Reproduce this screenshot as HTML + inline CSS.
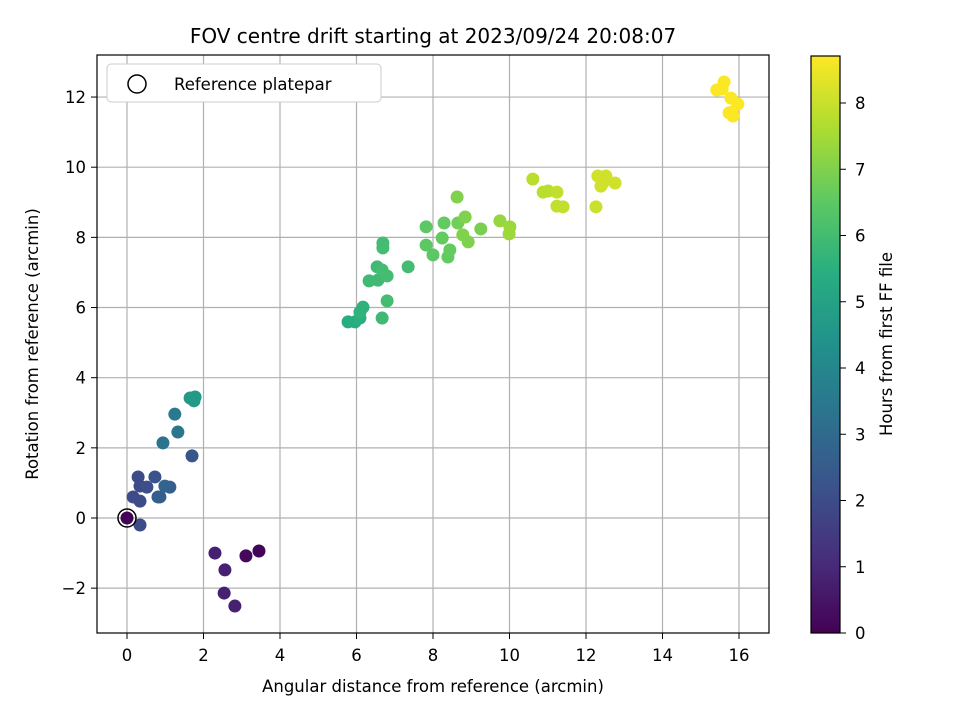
<!DOCTYPE html>
<html><head><meta charset="utf-8">
<style>
body{margin:0;background:#fff;}
svg text{font-family:"DejaVu Sans","Liberation Sans",sans-serif;fill:#000;}
</style></head>
<body>
<svg id="chart" width="960" height="720" viewBox="0 0 960 720" xmlns="http://www.w3.org/2000/svg">
<defs>
<linearGradient id="vir" x1="0" y1="1" x2="0" y2="0">
<stop offset="0" stop-color="#440154"/><stop offset="0.125" stop-color="#472d7b"/><stop offset="0.25" stop-color="#3b528b"/><stop offset="0.375" stop-color="#2c728e"/><stop offset="0.5" stop-color="#21918c"/><stop offset="0.625" stop-color="#28ae80"/><stop offset="0.75" stop-color="#5ec962"/><stop offset="0.875" stop-color="#addc30"/><stop offset="1" stop-color="#fde725"/>
</linearGradient>
<clipPath id="pc"><rect x="97" y="55" width="672" height="578"/></clipPath>
</defs>
<text x="433" y="43" font-size="20" text-anchor="middle">FOV centre drift starting at 2023/09/24 20:08:07</text>
<g id="grid"></g>
<g id="pts" clip-path="url(#pc)"></g>
<rect x="97" y="55" width="672" height="578" fill="none" stroke="#000" stroke-width="1.2"/>
<g id="ticks"></g>
<text x="433" y="692" font-size="16.5" text-anchor="middle">Angular distance from reference (arcmin)</text>
<text transform="translate(38,344) rotate(-90)" font-size="16.5" text-anchor="middle">Rotation from reference (arcmin)</text>
<g>
<rect x="107" y="64" width="274" height="38" rx="4" fill="#fff" stroke="#ccc"/>
<circle cx="137" cy="84" r="9" fill="none" stroke="#000" stroke-width="1.5"/>
<text x="174" y="90" font-size="16.5">Reference platepar</text>
</g>
<rect x="811" y="56" width="29" height="577" fill="url(#vir)" stroke="#000" stroke-width="1.2"/>
<g id="cbticks"></g>
<text transform="translate(892,344) rotate(-90)" font-size="16.5" text-anchor="middle">Hours from first FF file</text>
</svg>
<script>
const xs=[0,2.30,2.56,2.54,2.82,3.11,3.45,0.34,0.16,0.34,0.29,0.73,0.52,0.34,0.81,0.86,0.99,1.12,1.70,0.94,1.33,1.25,1.65,1.78,1.75,5.78,5.96,6.09,6.17,6.09,6.67,6.80,6.33,6.56,6.80,6.54,6.67,6.69,6.69,7.35,7.82,7.82,8.00,8.24,8.29,8.44,8.39,8.63,8.65,8.84,8.78,8.92,9.25,9.75,10.01,9.99,10.61,10.88,11.01,11.24,11.24,11.40,12.31,12.39,12.44,12.52,12.76,12.26,15.42,15.56,15.61,15.79,15.97,15.82,15.74,15.84];
const ys=[0,-1.00,-1.48,-2.14,-2.51,-1.08,-0.94,-0.20,0.60,0.48,1.17,1.17,0.88,0.91,0.60,0.60,0.91,0.88,1.77,2.14,2.45,2.96,3.42,3.45,3.34,5.59,5.59,5.70,6.01,5.87,5.70,6.19,6.76,6.78,6.90,7.16,7.07,7.84,7.70,7.16,8.30,7.78,7.50,7.98,8.41,7.64,7.44,9.15,8.41,8.58,8.07,7.87,8.24,8.47,8.30,8.10,9.66,9.29,9.32,9.29,8.89,8.87,9.75,9.46,9.55,9.75,9.55,8.87,12.20,12.23,12.43,11.97,11.80,11.57,11.55,11.46];
const hours=[0.05,0.8,0.8,0.8,0.8,0.2,0.1,2.0,2.0,2.0,2.0,2.2,2.1,2.0,2.6,2.6,2.8,2.6,2.3,3.3,3.4,3.5,4.6,4.7,4.7,5.4,5.4,5.5,5.6,5.6,5.9,6.0,5.9,5.9,6.0,5.9,6.0,6.0,6.0,6.0,6.5,6.5,6.5,6.6,6.6,6.6,6.6,7.0,6.8,7.0,7.0,7.0,6.9,7.3,7.4,7.4,7.8,7.8,7.8,7.9,7.9,7.9,8.1,8.1,8.1,8.1,8.1,8.0,8.7,8.7,8.7,8.7,8.7,8.7,8.7,8.7];
const xTicks=[0,2,4,6,8,10,12,14,16];
const yTicks=[-2,0,2,4,6,8,10,12];
const cbTicks=[0,1,2,3,4,5,6,7,8];
const X=v=>127+v*38.25, Y=v=>518-v*35.08, C=v=>633-v*66.25, HMAX=8.71;
const VIR=["#440154","#472d7b","#3b528b","#2c728e","#21918c","#28ae80","#5ec962","#addc30","#fde725"];
function col(h){let t=Math.max(0,Math.min(1,h/HMAX))*8,i=Math.min(7,Math.floor(t)),f=t-i;
const a=VIR[i],b=VIR[i+1],p=(s,k)=>parseInt(s.substr(k,2),16);
let r=[1,3,5].map(k=>Math.round(p(a,k)+(p(b,k)-p(a,k))*f));return `rgb(${r})`;}
const NS="http://www.w3.org/2000/svg";
function mk(t,at,par){const e=document.createElementNS(NS,t);for(const k in at)e.setAttribute(k,at[k]);document.getElementById(par).appendChild(e);return e;}
xTicks.forEach(v=>{const l=mk('line',{x1:X(v),x2:X(v),y1:55,y2:633,stroke:'#b0b0b0','stroke-width':1.2},'grid');


const t=mk('line',{x1:X(v),x2:X(v),y1:633,y2:639,stroke:'#000'},'ticks');


const tx=mk('text',{x:X(v),y:661,'font-size':16.5,'text-anchor':'middle'},'ticks');tx.textContent=v;

});
yTicks.forEach(v=>{const l=mk('line',{x1:97,x2:769,y1:Y(v),y2:Y(v),stroke:'#b0b0b0','stroke-width':1.2},'grid');


const t=mk('line',{x1:91,x2:97,y1:Y(v),y2:Y(v),stroke:'#000'},'ticks');


const tx=mk('text',{x:86,y:Y(v)+6,'font-size':16.5,'text-anchor':'end'},'ticks');tx.textContent=(v<0?'\u2212'+(-v):v);

});
cbTicks.forEach(v=>{const t=mk('line',{x1:840,x2:846,y1:C(v),y2:C(v),stroke:'#000'},'cbticks');


const tx=mk('text',{x:855,y:C(v)+6,'font-size':16.5},'cbticks');tx.textContent=v;

});
const idx=xs.map((_,i)=>i).sort((a,b)=>hours[a]-hours[b]);
idx.forEach(i=>{const c=mk('circle',{cx:X(xs[i]),cy:Y(ys[i]),r:6.5,fill:col(hours[i])},'pts');

});
const ref=mk('circle',{cx:X(0),cy:Y(0),r:9,fill:'none',stroke:'#000','stroke-width':1.5},'pts');


</script>
</body></html>
